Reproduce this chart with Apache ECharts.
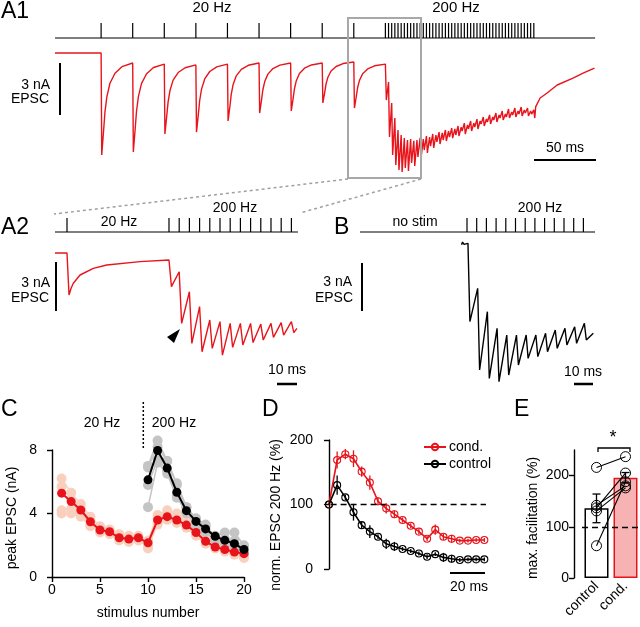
<!DOCTYPE html>
<html><head><meta charset="utf-8">
<script src="https://cdn.jsdelivr.net/npm/echarts@6/dist/echarts.min.js"></script>
<style>html,body{margin:0;padding:0;background:#fff}#c{width:640px;height:627px}</style>
</head><body><div id="c"></div>
<script>
// ---------------- DATA ----------------
// A1: 20 Hz train followed by 200 Hz train (time in ms, current in nA)
const a1Stim20 = [0, 50, 100, 150, 200, 250, 300, 350, 400];
const a1EpscOffsets = [0, 1, 4, 6, 9, 14, 22, 33];
const a1Epsc20 = [
  [0, -5.90, -4.45, -3.45, -2.55, -1.75, -1.17, -0.79],
  [-0.58, -5.72, -4.35, -3.38, -2.52, -1.76, -1.20, -0.84],
  [-0.64, -4.68, -3.60, -2.84, -2.17, -1.57, -1.13, -0.85],
  [-0.69, -4.57, -3.52, -2.76, -2.09, -1.50, -1.07, -0.80],
  [-0.64, -3.93, -3.05, -2.39, -1.82, -1.32, -0.95, -0.71],
  [-0.58, -3.47, -2.70, -2.14, -1.65, -1.22, -0.90, -0.70],
  [-0.58, -3.35, -2.62, -2.08, -1.60, -1.19, -0.88, -0.69],
  [-0.58, -2.89, -2.27, -1.80, -1.40, -1.04, -0.78, -0.61],
  [-0.52, -3.18, -2.50, -2.01, -1.58, -1.20, -0.92, -0.74]
];
const a1Stim200 = [450,455,460,465,470,475,480,485,490,495,500,505,510,515,520,525,530,535,540,545,550,555,560,565,570,575,580,585,590,595,600,605,610,615,620,625,630,635,640,645,650,655,660,665,670,675,680,685];
const a1Tops200 = [-0.64,-1.68,-2.89,-3.76,-4.45,-4.74,-4.91,-5.03,-4.97,-5.08,-5.03,-4.91,-4.97,-4.80,-4.86,-4.68,-4.74,-4.57,-4.62,-4.45,-4.51,-4.34,-4.39,-4.22,-4.28,-4.05,-4.16,-3.93,-4.05,-3.82,-3.93,-3.70,-3.82,-3.58,-3.70,-3.47,-3.58,-3.35,-3.53,-3.24,-3.41,-3.18,-3.35,-3.12,-3.29,-3.18,-3.35,-3.29];
const a1Troughs200 = [-2.72,-4.86,-5.90,-6.47,-6.76,-6.88,-6.65,-6.82,-6.36,-6.53,-6.01,-6.07,-5.61,-5.78,-5.38,-5.49,-5.14,-5.26,-5.03,-5.09,-4.86,-4.92,-4.74,-4.80,-4.51,-4.68,-4.39,-4.51,-4.28,-4.39,-4.10,-4.22,-3.99,-4.10,-3.87,-3.99,-3.76,-3.87,-3.70,-3.76,-3.58,-3.70,-3.53,-3.64,-3.47,-3.64,-3.53,-3.76];
const a1Start = [[-73, 0]];
const a1Tail = [[688, -3.1], [695, -2.60], [706, -2.31], [722, -1.85], [747, -1.45], [763, -1.16], [781, -0.87]];

// A2: enlarged view (last 20 Hz EPSC + 200 Hz train)
const a2Stim20 = [0];
const a2Start = [[-5.9, 0], [0, 0]];
const a2Epsc20 = [[1, -2.63], [2, -2.2], [3.1, -1.89], [6.4, -1.375], [12.9, -0.96], [19.5, -0.75], [35.8, -0.54]];
const a2Stim200 = [50, 55, 60, 65, 70, 75, 80, 85, 90, 95, 100, 105, 110];
const a2Tops = [-0.44, -1.17, -2.42, -3.35, -4.19, -4.29, -4.4, -4.4, -4.4, -4.44, -4.4, -4.35, -4.29];
const a2Troughs = [-2.10, -4.4, -5.65, -6.17, -5.96, -6.38, -5.9, -5.75, -5.6, -5.44, -5.27, -5.13, -4.98];
const a2End = [[112.7, -4.71]];

// B: 200 Hz without conditioning
const bStim200 = [0, 5, 10, 15, 20, 25, 30, 35, 40, 45, 50, 55, 60];
const bStart = [[-2.8, -0.05], [-2.3, 0.12], [-1.5, -0.02], [-0.6, 0.08]];
const bTops = [0.04, -2.77, -4.23, -5.27, -5.69, -5.69, -5.69, -5.69, -5.58, -5.375, -5.27, -5.17, -4.96];
const bTroughs = [-4.85, -7.875, -8.4, -8.6, -8.19, -7.56, -7.15, -7.04, -6.73, -6.52, -6.31, -6.21, -6.0];
const bEnd = [[65.1, -5.58]];

// C: peak EPSC vs stimulus number
const cStim = [1,2,3,4,5,6,7,8,9,10,11,12,13,14,15,16,17,18,19,20];
const cStim200 = [10,11,12,13,14,15,16,17,18,19,20];
const cCondMean = [5.28,4.75,4.22,3.48,2.96,2.85,2.47,2.39,2.47,2.15,3.59,3.80,3.59,3.27,2.80,2.25,1.89,1.73,1.57,1.47];
const cCondCells = [
  [6.2,5.3,4.6,3.8,3.2,3.0,2.7,2.6,2.6,2.3,3.9,4.2,4.0,3.6,3.1,2.5,2.2,2.0,1.8,1.6],
  [5.7,4.9,4.3,3.6,3.0,2.9,2.5,2.4,2.5,2.2,3.7,3.9,3.7,3.4,2.9,2.4,2.0,1.9,1.7,1.5],
  [4.2,4.3,4.0,3.3,2.8,2.7,2.3,2.3,2.3,2.0,3.3,3.6,3.4,3.1,2.6,2.1,1.8,1.7,1.5,1.3],
  [4.0,4.0,3.8,3.2,2.9,2.8,2.4,2.2,2.4,1.8,3.4,3.7,3.5,3.2,2.8,2.3,1.9,1.6,1.4,1.2]
];
const cCtrlMean = [6.12,7.97,6.86,5.34,4.18,3.50,3.03,2.56,2.31,2.10,1.73];
const cCtrlCells = [
  [7.0,8.6,7.3,5.8,4.4,3.6,3.2,2.6,2.8,2.8,2.0],
  [6.9,8.2,7.3,5.9,4.4,3.7,3.3,2.4,2.4,2.3,1.9],
  [5.8,7.4,6.7,5.1,4.0,3.4,2.9,2.3,2.2,2.0,1.6],
  [4.4,7.2,6.5,5.0,4.1,3.2,2.8,2.4,2.1,1.9,1.5]
];

// D: normalized EPSC during 200 Hz (%)
const dTimes = [0,5,10,15,20,25,30,35,40,45,50,55,60,65,70,75,80,85,90,95];
const dCond = [100,169,178,171,151,134,105,94,85,76,67,58,47,61,50,47,44,44,45,45];
const dCondErr = [0,13,8,13,8,11,6,8,6,4,4,4,4,8,5,6,3,3,3,3];
const dCtrl = [100,130,111,88,68,58,50,39,35,31,28,24,19,23,18,16,14,15,15,15];
const dCtrlErr = [0,15,4,13,6,10,4,8,7,3,3,3,4,3,7,6,3,3,3,3];

// E: max facilitation (%)
const eCats = ['control', 'cond.'];
const eMeans = [136, 196];
const eErr = [28, 10];
const ePairsCtrl = [216, 142, 137, 131, 63];
const ePairsCond = [237, 180, 205, 176, 188];

// ---------------- BUILD ----------------
const RED = '#e8141b', FONT = 'Liberation Sans, Arial, sans-serif';
const CLEAR = 'rgba(255,255,255,0)';
function stimPath(times, x0, x1) {
  const d = [[x0, 0]];
  times.forEach(t => { d.push([t, 0], [t, 1], [t, 0]); });
  d.push([x1, 0]);
  return d;
}
function train(times, tops, troughs, topDelay, troughDelay) {
  const d = [];
  times.forEach((t, i) => { d.push([t + topDelay, tops[i]], [t + troughDelay, troughs[i]]); });
  return d;
}
const a1Trace = a1Start.slice();
a1Stim20.forEach((t, i) => a1EpscOffsets.forEach((o, j) => a1Trace.push([t + o, a1Epsc20[i][j]])));
train(a1Stim200, a1Tops200, a1Troughs200, 0, 1.5).forEach(p => a1Trace.push(p));
a1Tail.forEach(p => a1Trace.push(p));

const a2Trace = a2Start.concat(a2Epsc20, train(a2Stim200, a2Tops, a2Troughs, 0, 1.2), a2End);
const bTrace = bStart.concat(train(bStim200, bTops, bTroughs, 0.5, 1.5), bEnd);

const hidden = { show: false };
function hx(g, min, max) { return { gridIndex: g, type: 'value', min, max, show: false }; }
const axLine = { show: true, lineStyle: { color: '#000', width: 1.4 } };
const axTick = { show: true, length: 5, lineStyle: { color: '#000', width: 1.4 } };
const axLab = { color: '#000', fontSize: 14, fontFamily: FONT };

const series = [];
function trace(xi, data, color, width) {
  series.push({ type: 'line', xAxisIndex: xi, yAxisIndex: xi, data, symbol: 'none', clip: false,
    lineStyle: { color, width }, silent: true, animation: false });
}
trace(0, stimPath(a1Stim20.concat(a1Stim200), -73, 782), '#000', 1.2);
trace(1, a1Trace, RED, 1.4);
trace(2, stimPath(a2Stim20.concat(a2Stim200), -5.88, 113.2), '#000', 1.2);
trace(3, a2Trace, RED, 1.4);
trace(4, stimPath(bStim200, -55.15, 65.98), '#000', 1.2);
trace(5, bTrace, '#000', 1.4);

// C
function cLine(xs, ys, color, size, width, z) {
  series.push({ type: 'line', xAxisIndex: 6, yAxisIndex: 6, data: xs.map((x, i) => [x, ys[i]]),
    symbol: 'circle', symbolSize: size, itemStyle: { color }, lineStyle: { color, width }, z, animation: false, clip: false });
}
cCondCells.forEach(c => cLine(cStim, c, '#f9d0bd', 10, 1.5, 2));
cCtrlCells.forEach(c => cLine(cStim200, c, '#c4c4c4', 10, 1.5, 3));
cLine(cStim, cCondMean, RED, 9, 2, 5);
cLine(cStim200, cCtrlMean, '#000', 9, 2, 6);

// D
function errRender(color, cap) {
  return function (params, api) {
    const x = api.value(0), lo = api.value(1), hi = api.value(2);
    const a = api.coord([x, lo]), b = api.coord([x, hi]);
    const st = { stroke: color, lineWidth: 1.3 };
    const ch = [{ type: 'line', shape: { x1: a[0], y1: a[1], x2: b[0], y2: b[1] }, style: st }];
    if (cap) {
      ch.push({ type: 'line', shape: { x1: a[0] - cap, y1: a[1], x2: a[0] + cap, y2: a[1] }, style: st });
      ch.push({ type: 'line', shape: { x1: b[0] - cap, y1: b[1], x2: b[0] + cap, y2: b[1] }, style: st });
    }
    return { type: 'group', children: ch };
  };
}
series.push({ type: 'custom', name: 'errCond', xAxisIndex: 7, yAxisIndex: 7, renderItem: errRender(RED, 0),
  data: dTimes.map((t, i) => [t, dCond[i] - dCondErr[i], dCond[i] + dCondErr[i]]), z: 6, animation: false });
series.push({ type: 'custom', name: 'errCtrl', xAxisIndex: 7, yAxisIndex: 7, renderItem: errRender('#000', 0),
  data: dTimes.map((t, i) => [t, dCtrl[i] - dCtrlErr[i], dCtrl[i] + dCtrlErr[i]]), z: 6, animation: false });
series.push({ type: 'line', name: 'cond.', xAxisIndex: 7, yAxisIndex: 7, data: dTimes.map((t, i) => [t, dCond[i]]),
  symbol: 'circle', symbolSize: 7, itemStyle: { color: CLEAR, borderColor: RED, borderWidth: 1.1 },
  lineStyle: { color: RED, width: 1.6 }, z: 4, animation: false });
series.push({ type: 'line', name: 'control', xAxisIndex: 7, yAxisIndex: 7, data: dTimes.map((t, i) => [t, dCtrl[i]]),
  symbol: 'circle', symbolSize: 7, itemStyle: { color: CLEAR, borderColor: '#000', borderWidth: 1.1 },
  lineStyle: { color: '#000', width: 1.6 }, z: 5, animation: false,
  markLine: { silent: true, symbol: 'none', label: { show: false }, animation: false,
    lineStyle: { color: '#000', width: 1.3, type: [6, 4] },
    data: [[{ coord: [1, 100] }, { coord: [96, 100] }]] } });

// E
series.push({ type: 'bar', xAxisIndex: 8, yAxisIndex: 8, barWidth: 24, animation: false, z: 2,
  data: [
    { value: eMeans[0], itemStyle: { color: '#fff', borderColor: '#000', borderWidth: 1.5 } },
    { value: eMeans[1], itemStyle: { color: '#f7b3b3', borderColor: RED, borderWidth: 1.5 } }
  ],
  markLine: { silent: true, symbol: 'none', label: { show: false }, animation: false,
    lineStyle: { color: '#000', width: 1.3, type: [6, 4] }, data: [{ yAxis: 100 }] } });
series.push({ type: 'custom', xAxisIndex: 8, yAxisIndex: 8, renderItem: errRender('#000', 4), z: 3, animation: false,
  data: eMeans.map((m, i) => [i, m - eErr[i], m + eErr[i]]) });
ePairsCtrl.forEach((v, i) => {
  series.push({ type: 'line', xAxisIndex: 8, yAxisIndex: 8, data: [v, ePairsCond[i]], symbol: 'circle', symbolSize: 10,
    itemStyle: { color: CLEAR, borderColor: '#000', borderWidth: 1 },
    lineStyle: { color: '#000', width: 1.1 }, z: 4, animation: false, clip: false });
});

// ---------------- GRAPHICS (labels, scale bars) ----------------
function txt(s, x, y, size, align, rot) {
  return { type: 'text', x, y, rotation: rot || 0, z: 10,
    style: { text: s, fontSize: size, fontFamily: FONT, fill: '#000', align: align || 'center', verticalAlign: 'middle' } };
}
function ln(x1, y1, x2, y2, w, color, dash) {
  return { type: 'line', z: 10, shape: { x1, y1, x2, y2 }, style: { stroke: color || '#000', lineWidth: w || 2, lineDash: dash || null } };
}
const R90 = Math.PI / 2;
const graphic = [
  txt('A1', 1, 12, 23, 'left'), txt('20 Hz', 212, 8, 15), txt('200 Hz', 456, 8, 15),
  txt('3 nA', 50, 85, 14, 'right'), txt('EPSC', 49, 99, 14, 'right'),
  ln(60, 63, 60, 115, 2), txt('50 ms', 565, 148, 14), ln(534, 160, 596, 160, 2),
  { type: 'rect', z: 9, shape: { x: 348, y: 18, width: 73, height: 160 }, style: { fill: 'none', stroke: '#a8a8a8', lineWidth: 2 } },
  ln(348, 179, 54, 214, 1.5, '#a0a0a0', [3, 3]), ln(421, 179, 300, 213, 1.5, '#a0a0a0', [3, 3]),
  txt('A2', 1, 228, 23, 'left'), txt('20 Hz', 119, 222, 14), txt('200 Hz', 235, 208, 14),
  txt('3 nA', 50, 283, 14, 'right'), txt('EPSC', 49, 298, 14, 'right'), ln(56, 262, 56, 311, 2),
  txt('10 ms', 287, 370, 14), ln(277, 384, 297, 384, 2.5),
  { type: 'polygon', z: 10, shape: { points: [[180, 329], [167, 337], [174, 343]] }, style: { fill: '#000' } },
  txt('B', 334, 228, 23, 'left'), txt('no stim', 415, 222, 14), txt('200 Hz', 540, 208, 14),
  txt('3 nA', 352, 282, 14, 'right'), txt('EPSC', 353, 298, 14, 'right'), ln(362, 263, 362, 311, 2),
  txt('10 ms', 583, 372, 14), ln(574, 384, 593, 384, 2.5),
  txt('C', 1, 410, 23, 'left'), txt('20 Hz', 102, 423, 14), txt('200 Hz', 174, 423, 14),
  ln(143.3, 402, 143.3, 450, 1.5, '#000', [2, 2]),
  txt('peak EPSC (nA)', 12, 518, 14, 'center', R90), txt('stimulus number', 148, 613, 14),
  txt('D', 262, 410, 23, 'left'), txt('norm. EPSC 200 Hz (%)', 276, 515, 14, 'center', R90),
  txt('20 ms', 469, 587, 14), ln(450, 573, 485, 573, 2),
  txt('E', 514, 410, 23, 'left'), txt('max. facilitation (%)', 533, 518, 14, 'center', R90),
  txt('*', 613, 438, 18),
  { type: 'polyline', z: 10, shape: { points: [[598, 452], [598, 448], [630, 448], [630, 452]] }, style: { stroke: '#000', lineWidth: 1.3, fill: 'none' } }
];

const option = {
  animation: false,
  backgroundColor: '#fff',
  textStyle: { fontFamily: FONT },
  grid: [
    { left: 55, top: 23, width: 542, height: 15 },
    { left: 55, top: 18.4, width: 542, height: 164.35 },
    { left: 55, top: 218, width: 243, height: 14 },
    { left: 55, top: 240, width: 243, height: 140 },
    { left: 360, top: 218, width: 235, height: 14 },
    { left: 360, top: 236, width: 235, height: 150 },
    { left: 52, top: 450, width: 192, height: 127 },
    { left: 318, top: 440, width: 175, height: 129 },
    { left: 582, top: 450, width: 64, height: 128 }
  ],
  xAxis: [
    hx(0, -73, 785), hx(1, -73, 785), hx(2, -5.88, 113.24), hx(3, -5.88, 113.24),
    hx(4, -55.15, 65.98), hx(5, -55.15, 65.98),
    { gridIndex: 6, type: 'value', min: 0, max: 20, interval: 5, axisLine: axLine, axisTick: axTick,
      axisLabel: Object.assign({ margin: 6 }, axLab), splitLine: hidden },
    hx(7, -6.7, 100.3),
    { gridIndex: 8, type: 'category', data: eCats, axisLine: hidden, axisTick: hidden,
      axisLabel: Object.assign({ rotate: 45, margin: 6, interval: 0 }, axLab), splitLine: hidden }
  ],
  yAxis: [
    { gridIndex: 0, type: 'value', min: 0, max: 1, show: false },
    { gridIndex: 1, type: 'value', min: -7.5, max: 2, show: false },
    { gridIndex: 2, type: 'value', min: 0, max: 1, show: false },
    { gridIndex: 3, type: 'value', min: -7.9375, max: 0.8125, show: false },
    { gridIndex: 4, type: 'value', min: 0, max: 1, show: false },
    { gridIndex: 5, type: 'value', min: -8.875, max: 0.5, show: false },
    { gridIndex: 6, type: 'value', min: 0, max: 8, interval: 4, offset: 10, axisLine: axLine, axisTick: axTick,
      axisLabel: Object.assign({ margin: 5 }, axLab), splitLine: hidden },
    { gridIndex: 7, type: 'value', min: 0, max: 200, interval: 100, axisLine: axLine, axisTick: axTick,
      axisLabel: Object.assign({ margin: 5 }, axLab), splitLine: hidden },
    { gridIndex: 8, type: 'value', min: 0, max: 250, interval: 100, offset: 8, axisLine: axLine, axisTick: axTick,
      axisLabel: Object.assign({ margin: 5, showMaxLabel: false }, axLab), splitLine: hidden }
  ],
  legend: { data: ['cond.', 'control'], left: 418, top: 435, orient: 'vertical', itemWidth: 22, itemHeight: 8, itemGap: 3,
    textStyle: { fontSize: 14, fontFamily: FONT, color: '#000', padding: [0, 0, 0, -2] }, selectedMode: false },
  graphic,
  series
};
const chart = echarts.init(document.getElementById('c'), null, { renderer: 'canvas' });
chart.setOption(option);
</script></body></html>
